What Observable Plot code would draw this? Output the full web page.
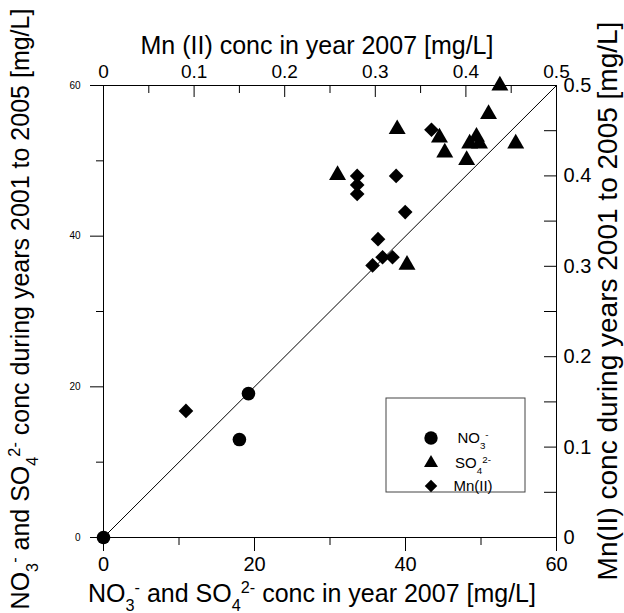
<!DOCTYPE html>
<html><head><meta charset="utf-8">
<script src="https://cdn.jsdelivr.net/npm/d3@7"></script>
<script src="https://cdn.jsdelivr.net/npm/@observablehq/plot@0.6"></script>
<style>
body{margin:0;background:#fff;font-family:"Liberation Sans",Arial,sans-serif}
#chart{width:624px;height:613px}
</style>
</head><body><div id="chart"></div>
<script>
// NO3- (x: 2007, y: 2001-2005), mg/L
const no3X = [0, 18.0, 19.2];
const no3Y = [0, 13.0, 19.1];
// SO4 2- (x: 2007, y: 2001-2005), mg/L
const so4X = [52.5, 51.0, 38.9, 49.4, 48.5, 49.8, 44.5, 45.2, 48.1, 54.6, 31.0, 40.2];
const so4Y = [60.0, 56.2, 54.2, 53.2, 52.3, 52.3, 53.1, 51.1, 50.1, 52.3, 48.1, 36.2];
// Mn(II) (x: 2007, y: 2001-2005), mg/L (top / right axes)
const mnX = [0, 0.091, 0.280, 0.280, 0.280, 0.323, 0.333, 0.303, 0.308, 0.319, 0.297, 0.362];
const mnY = [0, 0.140, 0.400, 0.390, 0.380, 0.400, 0.360, 0.330, 0.310, 0.310, 0.301, 0.451];

const concTicks = [0, 20, 40, 60];
const concMinor = [10, 30, 50];
const mnTicks = [0, 0.1, 0.2, 0.3, 0.4, 0.5];
const mnMinor = [0.05, 0.15, 0.25, 0.35, 0.45];
const diagonal = [0, 60];
const concMax = 60, mnMax = 0.5;
const k = concMax / mnMax; // Mn axes share the frame: 0–0.5 spans 0–60

const no3 = no3X.map((x, i) => ({x, y: no3Y[i]}));
const so4 = so4X.map((x, i) => ({x, y: so4Y[i]}));
const mn = mnX.map((x, i) => ({x, y: mnY[i]}));

const W = 624, H = 613, mL = 103, mR = 68, mT = 85, mB = 76;
const pw = W - mL - mR, ph = H - mT - mB;
const mnFmt = d => String(+(d / k).toFixed(2));

const chart = Plot.plot({
  width: W, height: H,
  marginLeft: mL, marginRight: mR, marginTop: mT, marginBottom: mB,
  style: {fontFamily: '"Liberation Sans", Arial, sans-serif', background: "#fff", color: "#000"},
  x: {domain: [0, concMax], label: null},
  y: {domain: [0, concMax], label: null},
  marks: [
    Plot.line(diagonal, {x: d => d, y: d => d, stroke: "#000", strokeWidth: 1}),
    // bottom axis
    Plot.axisX(concTicks, {anchor: "bottom", tickSize: 14, tickPadding: 5, fontSize: 20, label: null}),
    Plot.axisX(concMinor, {anchor: "bottom", tickSize: 8, tickFormat: () => "", label: null}),
    // left axis
    Plot.axisY(concTicks, {anchor: "left", tickSize: 13, tickPadding: 10, fontSize: 10, label: null}),
    Plot.axisY(concMinor, {anchor: "left", tickSize: 7, tickFormat: () => "", label: null}),
    // top axis (Mn)
    Plot.axisX(mnTicks.map(v => v * k), {anchor: "top", tickSize: 0, tickPadding: 8, fontSize: 19, tickFormat: mnFmt, label: null}),
    Plot.tickX(mnTicks, {x: d => d * k, insetBottom: ph - 12, stroke: "#000"}),
    Plot.tickX(mnMinor, {x: d => d * k, insetBottom: ph - 8, stroke: "#000"}),
    // right axis (Mn)
    Plot.axisY(mnTicks.map(v => v * k), {anchor: "right", tickSize: 0, tickPadding: 7, fontSize: 20, tickFormat: mnFmt, label: null}),
    Plot.tickY(mnTicks, {y: d => d * k, insetLeft: pw - 12, stroke: "#000"}),
    Plot.tickY(mnMinor, {y: d => d * k, insetLeft: pw - 12, stroke: "#000"}),
    Plot.frame({stroke: "#000"}),
    Plot.dot(so4, {x: "x", y: "y", symbol: "triangle", r: 6.3, fill: "#000", stroke: null}),
    Plot.dot(mn, {x: d => d.x * k, y: d => d.y * k, symbol: "diamond2", r: 6.6, fill: "#000", stroke: null}),
    Plot.dot(no3, {x: "x", y: "y", symbol: "circle", r: 6.8, fill: "#000", stroke: null})
  ]
});
document.getElementById("chart").append(chart);

// axis titles and legend (real text, with sub/superscripts)
const svg = d3.select(chart);
const ff = '"Liberation Sans", Arial, sans-serif';
function chem(sel, parts) {
  for (const [t, kind] of parts) {
    const ts = sel.append("tspan").text(t);
    if (kind) ts.attr("baseline-shift", kind === "sub" ? "sub" : "super").attr("font-size", "65%");
  }
  return sel;
}
const no3Parts = [["NO"], ["3", "sub"], ["-", "sup"]];
const so4Parts = [[" and SO"], ["4", "sub"], ["2-", "sup"]];
const TS = 25;
chem(svg.append("text").attr("x", 312).attr("y", 602).attr("text-anchor", "middle")
  .attr("font-family", ff).attr("font-size", TS),
  [...no3Parts, ...so4Parts, [" conc in year 2007 [mg/L]"]]);
svg.append("text").attr("x", 317).attr("y", 54).attr("text-anchor", "middle")
  .attr("font-family", ff).attr("font-size", TS).text("Mn (II) conc in year 2007 [mg/L]");
chem(svg.append("text").attr("transform", "translate(29,309) rotate(-90)").attr("text-anchor", "middle")
  .attr("font-family", ff).attr("font-size", TS),
  [...no3Parts, ...so4Parts, [" conc during years 2001 to 2005 [mg/L]"]]);
svg.append("text").attr("transform", "translate(617,301) rotate(-90)").attr("text-anchor", "middle")
  .attr("font-family", ff).attr("font-size", 28).text("Mn(II) conc during years 2001 to 2005 [mg/L]");

// legend
const lg = svg.append("g");
lg.append("rect").attr("x", 386).attr("y", 398).attr("width", 139).attr("height", 94)
  .attr("fill", "#fff").attr("stroke", "#444").attr("stroke-width", 1);
const legendItems = [
  {sym: d3.symbolCircle, size: 140, y: 438, parts: [["NO"], ["3", "sub"], ["-", "sup"]]},
  {sym: d3.symbolTriangle, size: 85, y: 463, parts: [["SO"], ["4", "sub"], ["2-", "sup"]]},
  {sym: d3.symbolDiamond2, size: 100, y: 486, parts: [["Mn(II)"]]}
];
for (const it of legendItems) {
  lg.append("path").attr("d", d3.symbol(it.sym, it.size)()).attr("transform", `translate(431,${it.y})`).attr("fill", "#000");
  chem(lg.append("text").attr("x", 473).attr("y", it.y + 5).attr("font-family", ff).attr("font-size", 15), it.parts);
}
</script>
</body></html>
